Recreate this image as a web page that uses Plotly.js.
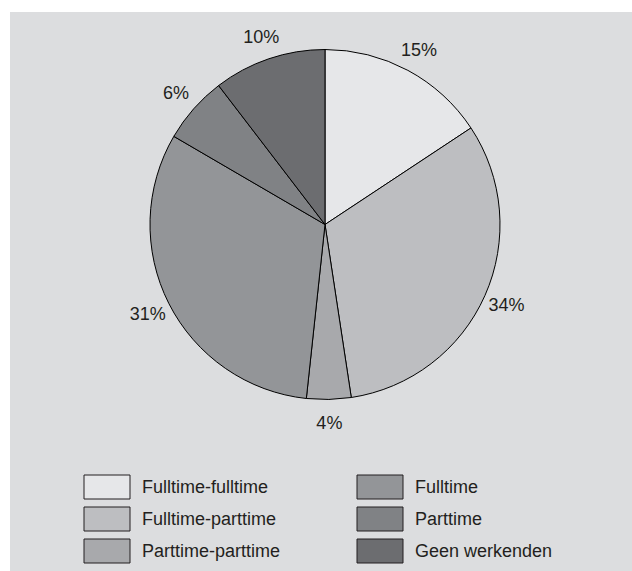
<!DOCTYPE html>
<html>
<head>
<meta charset="utf-8">
<script src="https://cdn.plot.ly/plotly-3.0.1.min.js"></script>
<style>
  html, body { margin: 0; padding: 0; background: #ffffff; }
  #chart { width: 632px; height: 571px; }
</style>
</head>
<body>
<div id="chart"></div>
<script>
// ---- data ----
const categories = ["Fulltime-fulltime", "Fulltime-parttime", "Parttime-parttime", "Fulltime", "Parttime", "Geen werkenden"];
// slice sizes as drawn in the picture (angles)
const shares = [15.7, 31.9, 4.1, 31.7, 6.2, 10.4];
// percentages as printed on the picture
const percentLabels = ["15%", "34%", "4%", "31%", "6%", "10%"];
const sliceColors = ["#e6e7e9", "#bdbec1", "#a8a9ac", "#939598", "#808285", "#6c6d70"];

// ---- layout helpers ----
const W = 632, H = 571;
const px = x => x / W;
const py = y => 1 - y / H;
const textColor = "#231f20";
const fontFamily = "'Liberation Sans', Arial, sans-serif";

// pie geometry (pixels)
const cx = 325, cy = 224.5, r = 175, rLabel = 222;

const pie = {
  type: "pie",
  labels: categories,
  values: shares,
  sort: false,
  direction: "clockwise",
  rotation: 0,
  marker: { colors: sliceColors, line: { color: "#000000", width: 1 } },
  textinfo: "none",
  hoverinfo: "label+percent",
  showlegend: false,
  domain: { x: [px(cx - r), px(cx + r)], y: [py(cy + r), py(cy - r)] }
};

// transparent ring used only to place the percentage labels around the pie
const labelRing = {
  type: "pie",
  labels: categories,
  values: shares,
  text: percentLabels,
  sort: false,
  direction: "clockwise",
  rotation: 0,
  hole: r / rLabel,
  marker: { colors: categories.map(() => "rgba(0,0,0,0)"), line: { width: 0 } },
  textinfo: "text",
  textposition: "inside",
  insidetextorientation: "horizontal",
  insidetextfont: { family: fontFamily, size: 18, color: textColor },
  hoverinfo: "skip",
  showlegend: false,
  domain: { x: [px(cx - rLabel), px(cx + rLabel)], y: [py(cy + rLabel), py(cy - rLabel)] }
};

// custom legend: two columns of three rows
const shapes = [{
  type: "rect", xref: "paper", yref: "paper", layer: "below",
  x0: px(10), x1: px(W + 5), y0: py(H + 5), y1: py(12),
  fillcolor: "#dcdddf", line: { width: 0 }
}];
const annotations = [];
const colSwatchX = [84, 357];
const rowTopY = [475, 507, 539];
const swW = 46, swH = 24;
categories.forEach((name, i) => {
  const col = Math.floor(i / 3), row = i % 3;
  const x0 = colSwatchX[col], y0 = rowTopY[row];
  shapes.push({
    type: "rect", xref: "paper", yref: "paper", layer: "above",
    x0: px(x0), x1: px(x0 + swW), y0: py(y0 + swH), y1: py(y0),
    fillcolor: sliceColors[i], line: { color: "#231f20", width: 1 }
  });
  annotations.push({
    xref: "paper", yref: "paper",
    x: px(x0 + swW + 10), y: py(y0 + swH / 2),
    xanchor: "left", yanchor: "middle",
    text: name, showarrow: false,
    font: { family: fontFamily, size: 18, color: textColor }
  });
});

const layout = {
  width: W, height: H,
  margin: { l: 0, r: 0, t: 0, b: 0 },
  paper_bgcolor: "#ffffff",
  showlegend: false,
  font: { family: fontFamily, color: textColor },
  shapes: shapes,
  annotations: annotations
};

Plotly.newPlot("chart", [pie, labelRing], layout, { displayModeBar: false, staticPlot: true });
</script>
</body>
</html>
